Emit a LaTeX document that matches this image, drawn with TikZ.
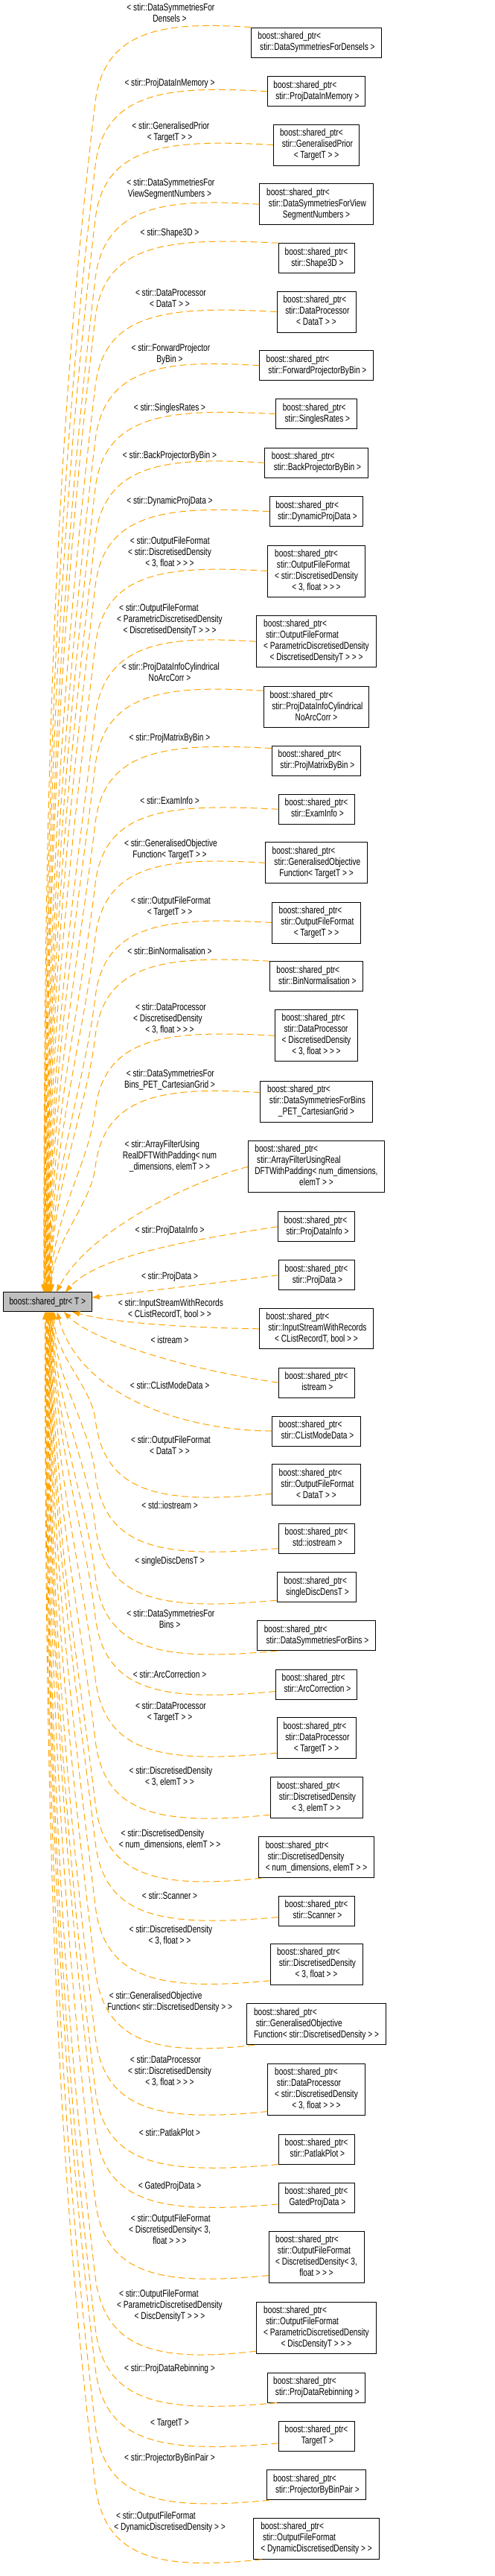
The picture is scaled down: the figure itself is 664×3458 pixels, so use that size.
\documentclass[tikz,border=0pt]{standalone}
\usepackage{fontspec}
\setmainfont{Liberation Sans}[FakeStretch=0.75]
\usetikzlibrary{arrows.meta}
\definecolor{edgeor}{RGB}{255,165,0}
\definecolor{rootgray}{RGB}{191,191,191}
\newcommand{\dxl}[1]{\begin{tabular}{@{}l@{}}#1\end{tabular}}
\newcommand{\dxc}[1]{\multicolumn{1}{@{}c@{}}{#1}}
\newcommand{\cnode}[5]{\node[cls, minimum width=#2pt, minimum height=#3pt] (#1) at (425,#4) {\dxl{#5}};}
\newcommand{\elab}[3]{\node (#1) at (228,#2) {#3};}
\newcommand{\upedge}[3]{%
  \draw[depedge] (#1) .. controls ({225},{#2-8}) and ({140},{#2}) .. ({128},{#2+100})
    .. controls ({128-0.036*(1635-#2)},{#2+100+0.3*(1635-#2)}) and ({63.8+(#3)},{#2+100+0.6*(1635-#2)}) .. ([xshift=#3pt]root.north);}
\newcommand{\dnedge}[3]{%
  \draw[depedge] (#1) .. controls ({215},{#2+15}) and ({140},{#2}) .. ({128},{#2-100})
    .. controls ({128-0.036*(#2-1861)},{#2-100-0.3*(#2-1861)}) and ({63.8+(#3)},{#2-100-0.6*(#2-1861)}) .. ([xshift=#3pt]root.south);}
\begin{document}
\begin{tikzpicture}[x=1pt,y=-1pt,
  every node/.style={font=\fontsize{13.5}{15}\selectfont, inner sep=0pt},
  cls/.style={draw=black, line width=1pt, fill=white},
  depedge/.style={draw=edgeor, line width=1pt, dash pattern=on 9pt off 5pt, -{Triangle[length=10pt,width=7pt]}}]
\fill[white] (0,0) rectangle (664,3458);
\useasboundingbox (0,0) rectangle (664,3458);

\node[draw=black, line width=1pt, fill=rootgray, minimum width=119pt, minimum height=25.7pt] (root) at (63.8,1747.8) {boost::shared\_ptr< T >};

\cnode{n1}{175.3}{40.3}{57.2}{boost::shared\_ptr<\\ \dxc{\ stir::DataSymmetriesForDensels >}}
\cnode{n2}{131.3}{40}{122.7}{boost::shared\_ptr<\\ \dxc{\ stir::ProjDataInMemory >}}
\cnode{n3}{115}{55}{194.5}{boost::shared\_ptr<\\ \ stir::GeneralisedPrior\\ \dxc{< TargetT > >}}
\cnode{n4}{152.3}{54.7}{274.3}{boost::shared\_ptr<\\ \ stir::DataSymmetriesForView\\ \dxc{SegmentNumbers >}}
\cnode{n5}{102}{40}{346.7}{boost::shared\_ptr<\\ \dxc{\ stir::Shape3D >}}
\cnode{n6}{106}{55}{418.5}{boost::shared\_ptr<\\ \ stir::DataProcessor\\ \dxc{< DataT > >}}
\cnode{n7}{152.3}{40}{490.7}{boost::shared\_ptr<\\ \dxc{\ stir::ForwardProjectorByBin >}}
\cnode{n8}{108.3}{40}{555.7}{boost::shared\_ptr<\\ \dxc{\ stir::SinglesRates >}}
\cnode{n9}{138.3}{39.7}{621.2}{boost::shared\_ptr<\\ \dxc{\ stir::BackProjectorByBin >}}
\cnode{n10}{125.7}{40}{686.7}{boost::shared\_ptr<\\ \dxc{\ stir::DynamicProjData >}}
\cnode{n11}{130.3}{69}{766.5}{boost::shared\_ptr<\\ \ stir::OutputFileFormat\\ < stir::DiscretisedDensity\\ \dxc{< 3, float > > >}}
\cnode{n12}{161}{69}{861.2}{boost::shared\_ptr<\\ \ stir::OutputFileFormat\\ < ParametricDiscretisedDensity\\ \dxc{< DiscretisedDensityT > > >}}
\cnode{n13}{141.7}{55}{949.2}{boost::shared\_ptr<\\ \ stir::ProjDataInfoCylindrical\\ \dxc{NoArcCorr >}}
\cnode{n14}{119.7}{40}{1021}{boost::shared\_ptr<\\ \dxc{\ stir::ProjMatrixByBin >}}
\cnode{n15}{102}{40}{1086.3}{boost::shared\_ptr<\\ \dxc{\ stir::ExamInfo >}}
\cnode{n16}{136.3}{54.7}{1158.3}{boost::shared\_ptr<\\ \ stir::GeneralisedObjective\\ \dxc{Function< TargetT > >}}
\cnode{n17}{118.7}{55}{1238.5}{boost::shared\_ptr<\\ \ stir::OutputFileFormat\\ \dxc{< TargetT > >}}
\cnode{n18}{125}{40}{1310.7}{boost::shared\_ptr<\\ \dxc{\ stir::BinNormalisation >}}
\cnode{n19}{111}{69.3}{1390.3}{boost::shared\_ptr<\\ \ stir::DataProcessor\\ < DiscretisedDensity\\ \dxc{< 3, float > > >}}
\cnode{n20}{150.3}{55}{1478.5}{boost::shared\_ptr<\\ \ stir::DataSymmetriesForBins\\ \dxc{\_PET\_CartesianGrid >}}
\cnode{n21}{183.3}{69.3}{1566.3}{boost::shared\_ptr<\\ \ stir::ArrayFilterUsingReal\\ DFTWithPadding< num\_dimensions,\\ \dxc{elemT > >}}
\cnode{n22}{103.7}{40}{1646.7}{boost::shared\_ptr<\\ \dxc{\ stir::ProjDataInfo >}}
\cnode{n23}{102}{40.3}{1711.8}{boost::shared\_ptr<\\ \dxc{\ stir::ProjData >}}
\cnode{n24}{153.3}{54.3}{1783.8}{boost::shared\_ptr<\\ \ stir::InputStreamWithRecords\\ \dxc{< CListRecordT, bool > >}}
\cnode{n25}{102}{40}{1856}{boost::shared\_ptr<\\ \dxc{\ istream >}}
\cnode{n26}{118.7}{40}{1921}{boost::shared\_ptr<\\ \dxc{\ stir::CListModeData >}}
\cnode{n27}{118.7}{55}{1993.2}{boost::shared\_ptr<\\ \ stir::OutputFileFormat\\ \dxc{< DataT > >}}
\cnode{n28}{102}{40}{2065}{boost::shared\_ptr<\\ \dxc{\ std::iostream >}}
\cnode{n29}{106}{40}{2130.7}{boost::shared\_ptr<\\ \dxc{\ singleDiscDensT >}}
\cnode{n30}{158.7}{40}{2195.7}{boost::shared\_ptr<\\ \dxc{\ stir::DataSymmetriesForBins >}}
\cnode{n31}{109}{40}{2261}{boost::shared\_ptr<\\ \dxc{\ stir::ArcCorrection >}}
\cnode{n32}{106}{55}{2333.2}{boost::shared\_ptr<\\ \ stir::DataProcessor\\ \dxc{< TargetT > >}}
\cnode{n33}{124}{55}{2413.2}{boost::shared\_ptr<\\ \ stir::DiscretisedDensity\\ \dxc{< 3, elemT > >}}
\cnode{n34}{154.3}{55}{2493.2}{boost::shared\_ptr<\\ \ stir::DiscretisedDensity\\ \dxc{< num\_dimensions, elemT > >}}
\cnode{n35}{102}{40}{2565}{boost::shared\_ptr<\\ \dxc{\ stir::Scanner >}}
\cnode{n36}{124}{55}{2636.8}{boost::shared\_ptr<\\ \ stir::DiscretisedDensity\\ \dxc{< 3, float > >}}
\cnode{n37}{187}{55}{2717.2}{boost::shared\_ptr<\\ \ stir::GeneralisedObjective\\ \dxc{Function< stir::DiscretisedDensity > >}}
\cnode{n38}{130.3}{69.3}{2805.3}{boost::shared\_ptr<\\ \ stir::DataProcessor\\ < stir::DiscretisedDensity\\ \dxc{< 3, float > > >}}
\cnode{n39}{102}{40}{2885}{boost::shared\_ptr<\\ \dxc{\ stir::PatlakPlot >}}
\cnode{n40}{102}{40}{2950.3}{boost::shared\_ptr<\\ \dxc{\ GatedProjData >}}
\cnode{n41}{128}{69.3}{3030.3}{boost::shared\_ptr<\\ \ stir::OutputFileFormat\\ < DiscretisedDensity< 3,\\ \dxc{float > > >}}
\cnode{n42}{161}{69.3}{3125}{boost::shared\_ptr<\\ \ stir::OutputFileFormat\\ < ParametricDiscretisedDensity\\ \dxc{< DiscDensityT > > >}}
\cnode{n43}{131.3}{40}{3205}{boost::shared\_ptr<\\ \dxc{\ stir::ProjDataRebinning >}}
\cnode{n44}{102}{40}{3270.3}{boost::shared\_ptr<\\ \dxc{\ TargetT >}}
\cnode{n45}{133.7}{40}{3335.7}{boost::shared\_ptr<\\ \dxc{\ stir::ProjectorByBinPair >}}
\cnode{n46}{168.3}{55}{3407.8}{boost::shared\_ptr<\\ \ stir::OutputFileFormat\\ \dxc{< DynamicDiscretisedDensity > >}}

\elab{l1}{19}{\dxl{\ < stir::DataSymmetriesFor\\ \dxc{Densels >}}}
\elab{l2}{112}{< stir::ProjDataInMemory >}
\elab{l3}{178}{\dxl{\ < stir::GeneralisedPrior\\ \dxc{< TargetT > >}}}
\elab{l4}{254}{\dxl{\ < stir::DataSymmetriesFor\\ \dxc{ViewSegmentNumbers >}}}
\elab{l5}{312.7}{< stir::Shape3D >}
\elab{l6}{402}{\dxl{\ < stir::DataProcessor\\ \dxc{< DataT > >}}}
\elab{l7}{476}{\dxl{\ < stir::ForwardProjector\\ \dxc{ByBin >}}}
\elab{l8}{548}{< stir::SinglesRates >}
\elab{l9}{612}{< stir::BackProjectorByBin >}
\elab{l10}{673}{< stir::DynamicProjData >}
\elab{l11}{742}{\dxl{\ < stir::OutputFileFormat\\ < stir::DiscretisedDensity\\ \dxc{< 3, float > > >}}}
\elab{l12}{832.7}{\dxl{\ < stir::OutputFileFormat\\ < ParametricDiscretisedDensity\\ \dxc{< DiscretisedDensityT > > >}}}
\elab{l13}{904}{\dxl{\ < stir::ProjDataInfoCylindrical\\ \dxc{NoArcCorr >}}}
\elab{l14}{991}{< stir::ProjMatrixByBin >}
\elab{l15}{1075}{< stir::ExamInfo >}
\elab{l16}{1141}{\dxl{\ < stir::GeneralisedObjective\\ \dxc{Function< TargetT > >}}}
\elab{l17}{1218}{\dxl{\ < stir::OutputFileFormat\\ \dxc{< TargetT > >}}}
\elab{l18}{1277}{< stir::BinNormalisation >}
\elab{l19}{1368}{\dxl{\ < stir::DataProcessor\\ < DiscretisedDensity\\ \dxc{< 3, float > > >}}}
\elab{l20}{1450}{\dxl{\ < stir::DataSymmetriesFor\\ \dxc{Bins\_PET\_CartesianGrid >}}}
\elab{l21}{1552}{\dxl{\ < stir::ArrayFilterUsing\\ RealDFTWithPadding< num\\ \dxc{\_dimensions, elemT > >}}}
\elab{l22}{1652}{< stir::ProjDataInfo >}
\elab{l23}{1714}{< stir::ProjData >}
\elab{l24}{1758}{\dxl{\ < stir::InputStreamWithRecords\\ \dxc{< CListRecordT, bool > >}}}
\elab{l25}{1799}{< istream >}
\elab{l26}{1860}{< stir::CListModeData >}
\elab{l27}{1942}{\dxl{\ < stir::OutputFileFormat\\ \dxc{< DataT > >}}}
\elab{l28}{2020.7}{< std::iostream >}
\elab{l29}{2095.7}{< singleDiscDensT >}
\elab{l30}{2175.2}{\dxl{\ < stir::DataSymmetriesFor\\ \dxc{Bins >}}}
\elab{l31}{2247.7}{< stir::ArcCorrection >}
\elab{l32}{2299.2}{\dxl{\ < stir::DataProcessor\\ \dxc{< TargetT > >}}}
\elab{l33}{2385.8}{\dxl{\ < stir::DiscretisedDensity\\ \dxc{< 3, elemT > >}}}
\elab{l34}{2469.7}{\dxl{\ < stir::DiscretisedDensity\\ \dxc{< num\_dimensions, elemT > >}}}
\elab{l35}{2545}{< stir::Scanner >}
\elab{l36}{2599.3}{\dxl{\ < stir::DiscretisedDensity\\ \dxc{< 3, float > >}}}
\elab{l37}{2688.2}{\dxl{\ < stir::GeneralisedObjective\\ \dxc{Function< stir::DiscretisedDensity > >}}}
\elab{l38}{2781}{\dxl{\ < stir::DataProcessor\\ < stir::DiscretisedDensity\\ \dxc{< 3, float > > >}}}
\elab{l39}{2862.7}{< stir::PatlakPlot >}
\elab{l40}{2935}{< GatedProjData >}
\elab{l41}{2994.3}{\dxl{\ < stir::OutputFileFormat\\ < DiscretisedDensity< 3,\\ \dxc{float > > >}}}
\elab{l42}{3095.6}{\dxl{\ < stir::OutputFileFormat\\ < ParametricDiscretisedDensity\\ \dxc{< DiscDensityT > > >}}}
\elab{l43}{3180}{< stir::ProjDataRebinning >}
\elab{l44}{3253}{< TargetT >}
\elab{l45}{3300}{< stir::ProjectorByBinPair >}
\elab{l46}{3385.8}{\dxl{\ < stir::OutputFileFormat\\ \dxc{< DynamicDiscretisedDensity > >}}}

\upedge{n1.north west}{37}{-5}
\upedge{n2.west}{122.7}{-4.45}
\upedge{n3.west}{194.5}{-3.9}
\upedge{n4.west}{274.3}{-3.35}
\upedge{n5.north west}{326.7}{-2.8}
\upedge{n6.west}{418.5}{-2.25}
\upedge{n7.west}{490.7}{-1.7}
\upedge{n8.west}{555.7}{-1.15}
\upedge{n9.west}{621.2}{-0.6}
\upedge{n10.west}{686.7}{-0.05}
\upedge{n11.west}{766.5}{0.5}
\upedge{n12.west}{861.2}{1.05}
\upedge{[yshift=-6pt]n13.north west}{927.7}{1.6}
\upedge{[yshift=-4pt]n14.north west}{1005}{2.15}
\upedge{n15.west}{1086.3}{2.7}
\upedge{n16.west}{1158.3}{3.25}
\upedge{n17.west}{1238.5}{3.8}
\upedge{n18.north west}{1290.7}{4.35}
\upedge{n19.west}{1390.3}{4.9}
\upedge{[yshift=-16pt]n20.north west}{1467}{5.45}
\draw[depedge] (n21.west) .. controls (260,1585) and (120,1650) .. ([xshift=12pt]root.north);
\draw[depedge] (n22.west) .. controls (230,1668) and (128,1690) .. ([xshift=24pt]root.north);
\draw[depedge] (n23.west) .. controls (290,1722) and (200,1733) .. ([yshift=6pt]root.east);
\draw[depedge] (n24.west) .. controls (240,1782) and (150,1775) .. ([xshift=33.5pt]root.south);
\draw[depedge] (n25.west) .. controls (250,1838) and (125,1800) .. ([xshift=22pt]root.south);
\draw[depedge] (n26.west) .. controls (240,1920) and (105,1870) .. ([xshift=13pt]root.south);
\dnedge{[yshift=16pt]n27.south west}{2005}{9}
\dnedge{[yshift=7pt]n28.south west}{2078}{8}
\dnedge{[yshift=3pt]n29.south west}{2148}{7}
\dnedge{[xshift=27pt]n30.south west}{2215.7}{6.4}
\dnedge{[yshift=11pt]n31.south west}{2270}{5.8}
\dnedge{[yshift=8pt]n32.south west}{2353}{5.2}
\dnedge{[yshift=5pt]n33.south west}{2436}{4.6}
\dnedge{[xshift=4pt]n34.south west}{2520.7}{4}
\dnedge{[yshift=12pt]n35.south west}{2573}{3.4}
\dnedge{[yshift=6pt]n36.south west}{2658}{2.8}
\dnedge{[xshift=11pt]n37.south west}{2744.7}{2.2}
\dnedge{[yshift=6pt]n38.south west}{2834}{1.6}
\dnedge{n39.south west}{2905}{1}
\dnedge{[yshift=12pt]n40.south west}{2958}{0.4}
\dnedge{[yshift=11pt]n41.south west}{3054}{-0.2}
\dnedge{[yshift=4pt]n42.south west}{3156}{-0.8}
\dnedge{[xshift=13pt]n43.south west}{3225}{-1.4}
\dnedge{[yshift=11pt]n44.south west}{3279}{-2}
\dnedge{[xshift=4pt]n45.south west}{3355.7}{-2.6}
\dnedge{[xshift=11pt]n46.south west}{3435.3}{-3.2}
\end{tikzpicture}
\end{document}
